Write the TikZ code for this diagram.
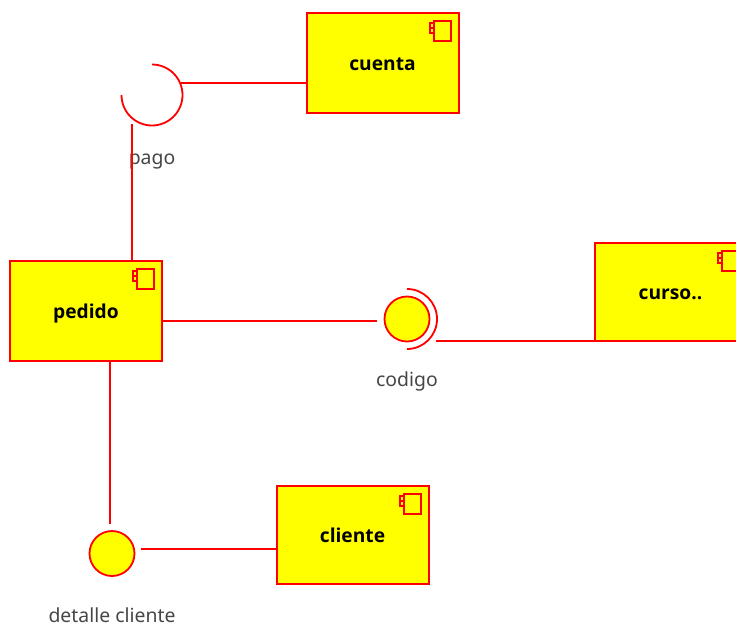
\documentclass[tikz,border=0pt]{standalone}
\usepackage{fontspec}
\setmainfont{Noto Sans}
\newfontfamily\boxfont{Open Sans}
\usepackage{xcolor}
\usetikzlibrary{calc,positioning}
\definecolor{ifacered}{RGB}{255,0,0}
\definecolor{compyellow}{RGB}{255,255,0}
\definecolor{labelgray}{RGB}{70,70,70}
\tikzset{
  wire/.style={draw=ifacered, line width=1.8pt},
  iconline/.style={draw=ifacered, fill=compyellow, line width=2pt},
  compbox/.style={draw=ifacered, fill=compyellow, line width=2pt, minimum width=152pt, minimum height=99pt, inner sep=0pt, outer sep=0pt, text height=14.5pt, text depth=0pt, font=\fontsize{19.2}{22}\boxfont\bfseries},
  ball/.style={circle, draw=ifacered, fill=compyellow, line width=1.8pt, minimum size=45pt, inner sep=0pt, outer sep=0pt},
  ifacelabel/.style={text=labelgray, inner sep=0pt, anchor=base, font=\fontsize{19.4}{22}\selectfont}
}
\newcommand{\CompIcon}[1]{% #1=component node
  \draw[iconline] ($(#1.north east)+(-25,8)$) rectangle ++(17,20);
  \draw[iconline] ($(#1.north east)+(-29,10)$) rectangle ++(4,5);
  \draw[iconline] ($(#1.north east)+(-29,15)$) rectangle ++(4,5);
}
\begin{document}
\begin{tikzpicture}[x=1pt,y=-1pt]
  \useasboundingbox (0,0) rectangle (736,626);
  \clip (0,0) rectangle (736,626);
  % Components
  \node[compbox, minimum height=100pt] (cuenta) at (382.5,63) {cuenta};
  \node[compbox, minimum height=100pt] (pedido) at (86,311) {pedido};
  \node[compbox, minimum height=98pt] (curso) at (670.5,292) {curso..};
  \node[compbox, minimum height=98pt] (cliente) at (352.5,535) {cliente};
  \CompIcon{cuenta}
  \CompIcon{pedido}
  \CompIcon{curso}
  \CompIcon{cliente}
  % Interfaces
  \node[ball] (codigo) at (407,319) {};
  \node[ball] (detalle) at (112,553.5) {};
  \coordinate (pagoC) at (152,95);
  \draw[wire] (pagoC) ++(0,-30.5) arc[start angle=-90, end angle=180, radius=30.5];
  \draw[wire] (codigo) ++(0,-30) arc[start angle=-90, end angle=90, radius=30];
  % Labels
  \node[ifacelabel] (pagoLabel) at (152,164) {pago};
  \node[ifacelabel] (codigoLabel) at (407,386.5) {codigo};
  \node[ifacelabel] (detalleLabel) at (112,622.5) {detalle cliente};
  % Free wire ends
  \coordinate (pagoDown) at (132,124);
  \coordinate (pagoRight) at (181,83);
  \coordinate (codigoLeft) at (377,321);
  \coordinate (codigoRight) at (436,341);
  \coordinate (detalleUp) at (110,524);
  \coordinate (detalleRight) at (141,549);
  % Wires
  \draw[wire] (pagoDown) -- (pagoDown |- pedido.north);
  \draw[wire] (pagoRight) -- (pagoRight -| cuenta.west);
  \draw[wire] (pedido.east |- codigoLeft) -- (codigoLeft);
  \draw[wire] (codigoRight) -- (codigoRight -| curso.west);
  \draw[wire] (detalleUp |- pedido.south) -- (detalleUp);
  \draw[wire] (detalleRight) -- (detalleRight -| cliente.west);
\end{tikzpicture}
\end{document}
